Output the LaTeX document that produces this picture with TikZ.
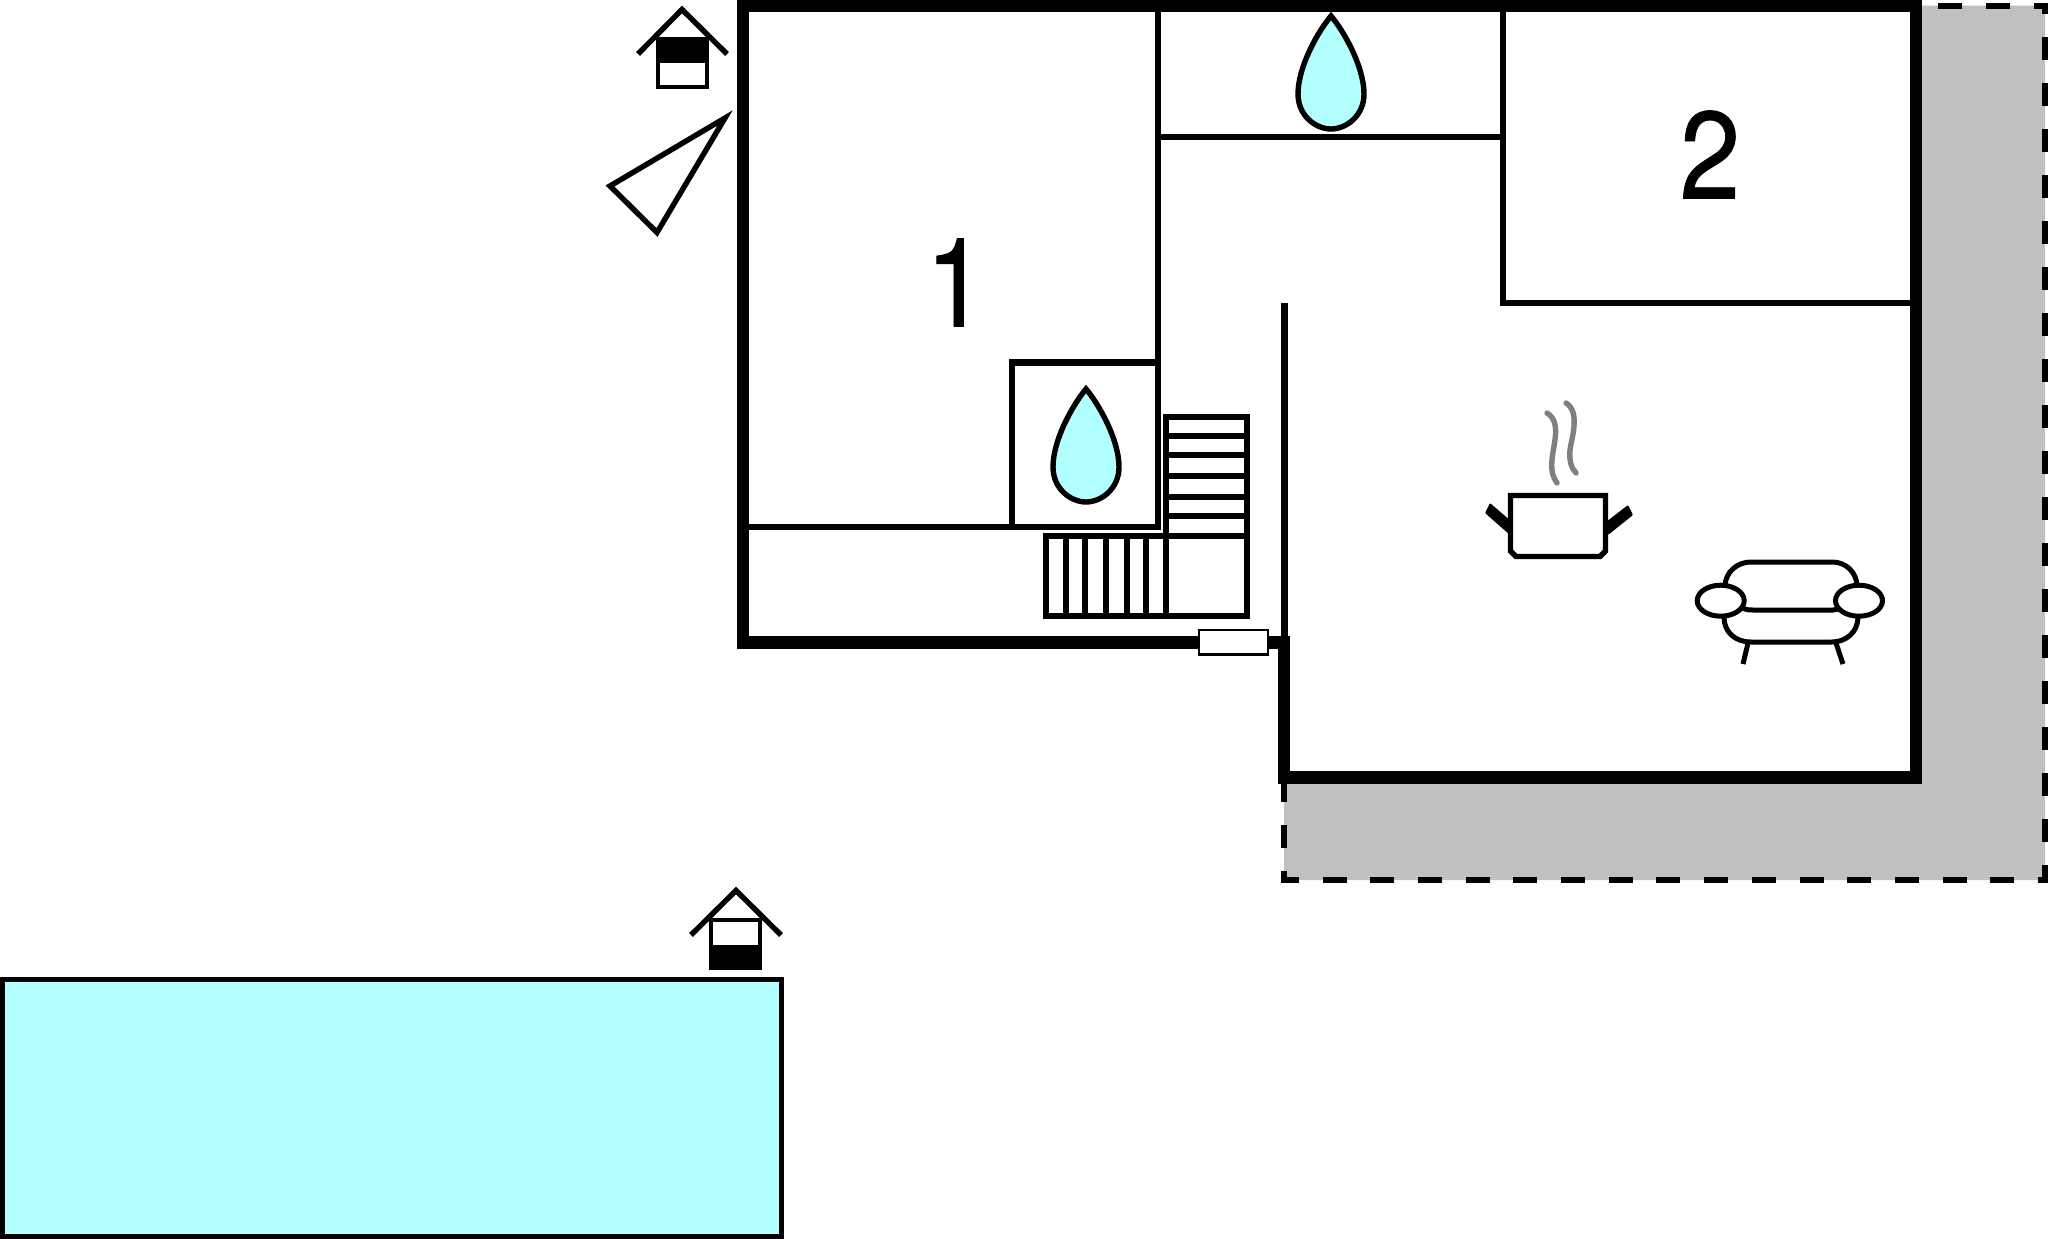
\documentclass[tikz,border=0pt]{standalone}
\usepackage{fontspec}
\setmainfont{TeX Gyre Heros}
\newfontfamily\roomfont[FakeBold=0.6]{TeX Gyre Heros}
\definecolor{water}{RGB}{178,255,255}
\definecolor{terrace}{RGB}{192,192,192}
\definecolor{steam}{RGB}{128,128,128}
\tikzset{
  x=1pt,y=-1pt,
  outerwall/.style={line width=12.5pt,miter limit=10},
  innerwall/.style={line width=6.2pt},
  stairline/.style={line width=5.2pt},
  boundary/.style={line width=6.5pt},
  symbolline/.style={line width=5.4pt},
  sofaline/.style={line width=5pt},
  roomlabel/.style={font=\roomfont\fontsize{124}{124}\selectfont,inner sep=0pt,text=black,xscale=0.88,transform shape},
  waterdrop/.pic={
    \draw[fill=water,line width=5.4pt,line join=miter]
      (0,0) .. controls (12,14) and (33,50) .. (33,78)
      .. controls (33,100) and (15,113) .. (0,113)
      .. controls (-15,113) and (-33,100) .. (-33,78)
      .. controls (-33,50) and (-12,14) .. (0,0) -- cycle;
  }
}
\begin{document}
\begin{tikzpicture}
\useasboundingbox (0,0) rectangle (2048,1239);
% terrace
\fill[terrace] (1916,5.7) -- (2045,5.7) -- (2045,880) -- (1284,880) -- (1284,777) -- (1916,777) -- cycle;
\draw[boundary,dash pattern=on 24pt off 24pt] (1938,6) -- (2045,6);
\draw[boundary,dash pattern=on 23pt off 23pt,dash phase=12pt] (2045,3) -- (2045,880);
\draw[boundary,dash pattern=on 24pt off 23.7pt,dash phase=14pt] (2048,880) -- (1284,880);
\draw[boundary,dash pattern=on 23pt off 23pt,dash phase=11pt] (1284,883) -- (1284,780);
% walls
\draw[innerwall] (1158,6) -- (1158,527) -- (743,527);
\draw[innerwall] (1158,137) -- (1503,137);
\draw[innerwall] (1503,6) -- (1503,303) -- (1916,303);
\draw[innerwall] (1012,527) -- (1012,362.5) -- (1158,362.5);
\draw[innerwall] (1284.5,303) -- (1284.5,640);
\draw[outerwall] (743,6) -- (1916,6) -- (1916,777.5) -- (1284,777.5) -- (1284,642.5) -- (743,642.5) -- cycle;
% stairs
\draw[stairline] (1166,417) rectangle (1247,536);
\foreach \yy in {436,455,476,497,516} \draw[stairline] (1166,\yy) -- (1247,\yy);
\draw[stairline] (1046,536) rectangle (1247,616);
\foreach \xx in {1066,1085,1106,1127,1146,1166} \draw[stairline] (\xx,536) -- (\xx,616);
% door
\draw[fill=white,line width=2.4pt] (1199,630) rectangle (1268,654.5);
% water
\pic at (1086,389) {waterdrop};
\pic at (1331,16) {waterdrop};
\draw[fill=water,line width=5.4pt] (2.5,979.5) rectangle (781.5,1236.5);
% labels
\node[roomlabel] (roomone) at (956,282.5) {1};
\node[roomlabel] (roomtwo) at (1710,154.5) {2};
% entry mark top
\fill (656,37) rectangle (709,63);
\draw[line width=4.6pt] (658,39) rectangle (707,87);
\draw[symbolline] (638,54) -- (682,9.5) -- (727,54);
% view triangle
\draw[symbolline,miter limit=10] (725,118) -- (610,186) -- (657,232.5) -- cycle;
% entry mark bottom
\fill (709,945) rectangle (762,970);
\draw[line width=4.6pt] (711,920) rectangle (760,968);
\draw[symbolline] (691,935) -- (736,890.5) -- (781,935);
% pot
\draw[black,line width=5.4pt,fill=white] (1510.5,495.5) -- (1605.5,495.5) -- (1605.5,551) -- (1600,556.5) -- (1516,556.5) -- (1510.5,551) -- cycle;
\fill[rounded corners=1pt] (1485,513) -- (1490,503) -- (1512,522) -- (1510,535) -- cycle;
\fill[rounded corners=1pt] (1628,505) -- (1633,515) -- (1608,535) -- (1606,522) -- cycle;
\draw[steam,line width=5.4pt,line cap=round] (1547,413) .. controls (1562,422) and (1553,445) .. (1552,460) .. controls (1551,472) and (1553,477) .. (1557,483);
\draw[steam,line width=5.4pt,line cap=round] (1566,403) .. controls (1581,412) and (1571,440) .. (1570,450) .. controls (1569,460) and (1571,468) .. (1576,473);
% sofa
\draw[sofaline] (1725,585) .. controls (1726,572) and (1737,562) .. (1751,562) -- (1832,562) .. controls (1846,562) and (1856,572) .. (1857,585);
\draw[sofaline] (1743,608) .. controls (1746,610) and (1750,610) .. (1753,610) -- (1833,610) .. controls (1836,610) and (1838,609) .. (1840,608);
\draw[sofaline] (1724,617) .. controls (1724,632) and (1735,642) .. (1751,642) -- (1832,642) .. controls (1846,642) and (1858,632) .. (1858,617);
\draw[sofaline] (1720.7,600.7) ellipse [x radius=23.5,y radius=15.5];
\draw[sofaline] (1859,600.7) ellipse [x radius=23.5,y radius=15.5];
\draw[sofaline] (1748,643) -- (1743,664);
\draw[sofaline] (1836,643) -- (1843,664);
\end{tikzpicture}
\end{document}
